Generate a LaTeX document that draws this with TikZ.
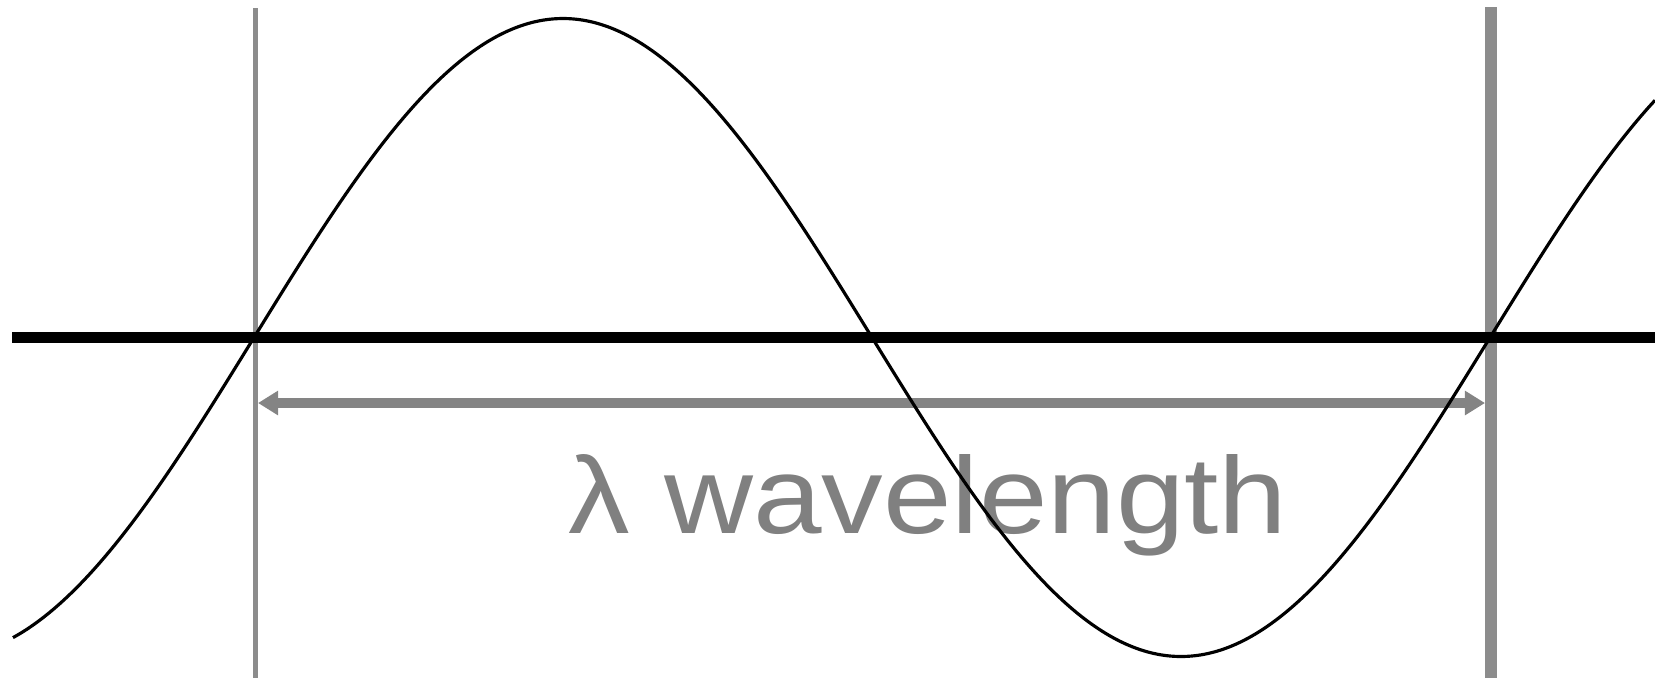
\documentclass[tikz,border=0pt]{standalone}
\usepackage{fontspec}
\setmainfont{Liberation Sans}
\usepackage{xcolor}
\usepackage{tikz}
\usetikzlibrary{arrows.meta, positioning}
\definecolor{markgray}{RGB}{140, 140, 140}
\definecolor{arrowgray}{RGB}{132, 132, 132}
\definecolor{labelgray}{RGB}{128, 128, 128}

\begin{document}
\begin{tikzpicture}[x=0.01cm, y=-0.01cm, >={Triangle[length=5.7pt,width=6.6pt]}]
\useasboundingbox (0,0) rectangle (1655,678);

% Wavelength markers
\coordinate (m1top) at (255.5,8);
\coordinate (m1bot) at (255.5,678);
\coordinate (m2top) at (1491,7);
\coordinate (m2bot) at (1491,678);
\draw[markgray,line width=1.5pt] (m1top) -- (m1bot);
\draw[markgray,line width=3.2pt] (m2top) -- (m2bot);

% Wavelength arrow and label
\coordinate (w1) at (258,403);
\coordinate (w2) at (1485,403);
\draw[<->,arrowgray,line width=2.6pt] (w1) -- (w2);
\node[text=labelgray,font=\fontsize{31}{36}\selectfont,anchor=base,xscale=1.13] (wl) at (928,533) {λ wavelength};

% Axis
\coordinate (ax1) at (12,337.5);
\coordinate (ax2) at (1655,337.5);
\draw[black,line width=3pt] (ax1) -- (ax2);

% Wave
\draw[black,line width=0.9pt] plot[domain=13:1655,samples=240,smooth] (\x,{337.5-319*sin((\x-254)*0.29126)});
\end{tikzpicture}
\end{document}
